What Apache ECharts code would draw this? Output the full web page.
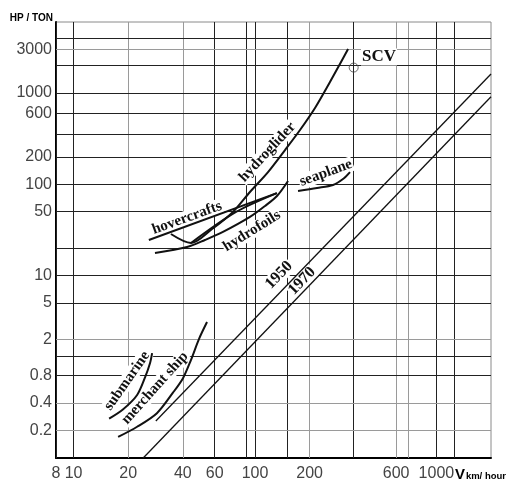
<!DOCTYPE html>
<html><head><meta charset="utf-8">
<script src="https://cdn.jsdelivr.net/npm/echarts@6/dist/echarts.min.js"></script>
<style>html,body{margin:0;padding:0;background:#fff}#c{width:507px;height:483px}</style>
</head><body><div id="c"></div>
<script>
// ---- tick labels / grid values ----
const xTickLabels = [8, 10, 20, 40, 60, 100, 200, 600, 1000];
const xMinorGrid = [90, 150, 350, 700, 1250];
const yTickLabels = [0.2, 0.4, 0.8, 2, 5, 10, 50, 100, 200, 600, 1000, 3000];
const yMinorGrid = [1.3, 20, 350, 2000, 4000];

// ---- series data: speed V (km/h) and specific power (HP/ton) ----
const submarineV = [15.7, 18.7, 22.4, 24.8, 26.4, 27.1];
const submarineP = [0.27, 0.34, 0.49, 0.77, 1.10, 1.41];
const merchantV = [17.6, 22.4, 28.8, 35.3, 40.1, 44.4, 49.1, 54.4];
const merchantP = [0.17, 0.22, 0.31, 0.52, 0.75, 1.19, 2.01, 3.09];
const hoverUpperV = [26, 132];
const hoverUpperP = [24.5, 80];
const hoverLowerV = [44.4, 78.6, 132];
const hoverLowerP = [22.7, 49.7, 80];
const hydrogliderV = [34.4, 44.4, 58, 75.6, 93.8, 118, 146.4, 177.1, 214.2, 259.1, 294, 326];
const hydrogliderP = [28.5, 22.7, 32.3, 49.7, 82.2, 136, 237, 393, 685, 1320, 2079, 3035];
const hydrofoilsV = [28.1, 42.2, 53, 66.6, 93.8, 113.6, 132.2, 152.1];
const hydrofoilsP = [17.6, 20.5, 24.5, 30, 43.8, 57.8, 74.3, 108.6];
const seaplaneV = [172.7, 219.8, 269.2, 305.6, 334];
const seaplaneP = [84.3, 91, 98.1, 114, 136];
const trend1950V = [28.4, 2000];
const trend1950P = [0.254, 1615];
const trend1970V = [24.2, 2000];
const trend1970P = [0.1, 911];
const scvV = [350];
const scvP = [1900];

// ---- build chart ----
const chart = echarts.init(document.getElementById('c'), null, {renderer: 'canvas'});
const zip = (a, b) => a.map((v, i) => [v, b[i]]);
const grayX = new Set([20, 40, 200, 600, 700]);
const grayY = new Set([0.2, 0.4, 2, 3000]);
const labelFont = {color: '#444', fontSize: 16, fontFamily: '"Liberation Sans", Arial, sans-serif'};

const gridLines = [];
xTickLabels.forEach(v => gridLines.push({xAxis: v, name: String(v),
  lineStyle: {color: grayX.has(v) ? '#9a9a9a' : '#222', width: 1, type: 'solid'},
  label: Object.assign({show: true, position: 'start', distance: 8, formatter: '{b}'}, labelFont)}));
xMinorGrid.forEach(v => gridLines.push({xAxis: v, name: '',
  lineStyle: {color: grayX.has(v) ? '#9a9a9a' : '#222', width: 1, type: 'solid'},
  label: {show: false}}));
yTickLabels.forEach(v => gridLines.push({yAxis: v, name: String(v),
  lineStyle: {color: grayY.has(v) ? '#9a9a9a' : '#222', width: 1, type: 'solid'},
  label: Object.assign({show: true, position: 'start', distance: 4, formatter: '{b}'}, labelFont)}));
yMinorGrid.forEach(v => gridLines.push({yAxis: v, name: '',
  lineStyle: {color: grayY.has(v) ? '#9a9a9a' : '#222', width: 1, type: 'solid'},
  label: {show: false}}));

const curve = (name, V, P, width, smooth) => ({
  name, type: 'line', data: zip(V, P), showSymbol: false, symbol: 'none',
  smooth: smooth, z: 10, silent: true,
  lineStyle: {color: '#111', width: width}
});

const option = {
  animation: false,
  backgroundColor: '#fff',
  grid: {left: 56, top: 22, width: 435, height: 436, show: true, borderColor: '#8a8a8a', borderWidth: 1,
         backgroundColor: 'transparent', outerBoundsMode: 'none'},
  xAxis: {type: 'log', logBase: 10, min: 8, max: 2000,
    axisLine: {show: true, lineStyle: {color: '#000', width: 2}},
    axisTick: {show: false}, axisLabel: {show: false}, splitLine: {show: false}, minorSplitLine: {show: false}},
  yAxis: {type: 'log', logBase: 10, min: 0.1, max: 6000,
    axisLine: {show: true, lineStyle: {color: '#000', width: 2}},
    axisTick: {show: false}, axisLabel: {show: false}, splitLine: {show: false}, minorSplitLine: {show: false}},
  series: [
    {name: 'grid', type: 'line', data: [], z: 2, silent: true,
      markLine: {silent: true, symbol: ['none', 'none'], animation: false, data: gridLines}},
    curve('submarine', submarineV, submarineP, 2, 0.3),
    curve('merchant ship', merchantV, merchantP, 2, 0.3),
    curve('hovercrafts upper', hoverUpperV, hoverUpperP, 2, false),
    curve('hovercrafts lower', hoverLowerV, hoverLowerP, 2, 0.3),
    curve('hydroglider', hydrogliderV, hydrogliderP, 2, 0.3),
    curve('hydrofoils', hydrofoilsV, hydrofoilsP, 2, 0.3),
    curve('seaplane', seaplaneV, seaplaneP, 2, 0.3),
    curve('1950', trend1950V, trend1950P, 1.3, false),
    curve('1970', trend1970V, trend1970P, 1.3, false),
    {name: 'SCV', type: 'scatter', data: zip(scvV, scvP), symbol: 'circle', symbolSize: 9, z: 10, silent: true,
      itemStyle: {color: 'rgba(0,0,0,0)', borderColor: '#444', borderWidth: 1}}
  ]
};
chart.setOption(option);

// ---- text annotations, anchored in data coordinates ----
const annotations = [
  {text: 'hovercrafts', at: [42.2, 42.7], rot: 20, size: 15},
  {text: 'hydroglider', at: [117, 225], rot: 47, size: 15},
  {text: 'hydrofoils', at: [96.3, 30.7], rot: 32, size: 15},
  {text: 'seaplane', at: [246, 133], rot: 20, size: 15},
  {text: 'submarine', at: [19.7, 0.70], rot: 55, size: 15},
  {text: 'merchant ship', at: [28.1, 0.585], rot: 48, size: 15},
  {text: '1950', at: [135.7, 10.1], rot: 46, size: 16},
  {text: '1970', at: [181.7, 8.7], rot: 46, size: 16},
  {text: 'SCV', at: [482.7, 2480], rot: 0, size: 17}
];
const graphics = annotations.map(a => {
  const p = chart.convertToPixel({gridIndex: 0}, a.at);
  return {type: 'text', x: p[0], y: p[1], rotation: a.rot * Math.PI / 180, z: 5, silent: true,
    style: {text: a.text, font: 'bold ' + a.size + 'px "Liberation Serif", "Times New Roman", serif',
      fill: '#111', align: 'center', verticalAlign: 'middle', backgroundColor: '#fff', padding: [0, 1]}};
});
graphics.push({type: 'text', x: 53, y: 18, z: 5, style: {text: 'HP / TON',
  font: 'bold 10px "Liberation Sans", Arial, sans-serif', fill: '#000', align: 'right', verticalAlign: 'middle'}});
graphics.push({type: 'text', x: 465, y: 475, z: 5, style: {text: 'V',
  font: 'bold 15px "Liberation Sans", Arial, sans-serif', fill: '#000', align: 'right', verticalAlign: 'middle'}});
graphics.push({type: 'text', x: 506, y: 476, z: 5, style: {text: 'km/ hour',
  font: 'bold 9.5px "Liberation Sans", Arial, sans-serif', fill: '#000', align: 'right', verticalAlign: 'middle'}});
chart.setOption({graphic: graphics});
</script>
</body></html>
